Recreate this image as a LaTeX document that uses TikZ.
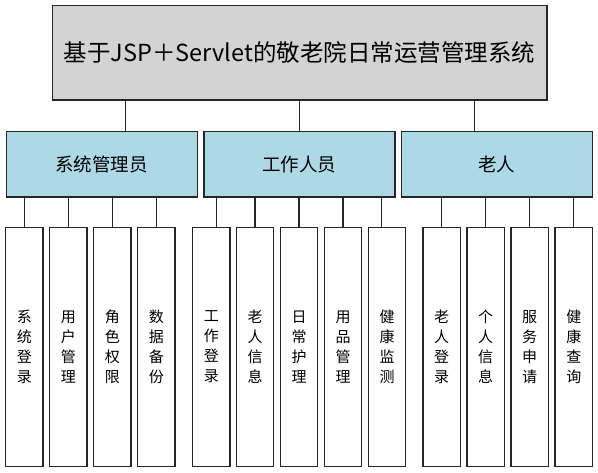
\documentclass[tikz,border=0pt]{standalone}
\usepackage{fontspec}
\setmainfont{Noto Sans CJK SC}
\definecolor{titlegray}{RGB}{211,211,211}
\definecolor{roleblue}{RGB}{173,216,230}
\tikzset{%
  box/.style      = {shape=rectangle, draw=black!85, line width=1.2pt,%
                     inner sep=0pt, align=center},%
  titlebox/.style = {box, fill=titlegray, minimum width=494.6pt, minimum height=94.5pt,%
                     font=\fontsize{23.5}{28}\selectfont},%
  rolebox/.style  = {box, fill=roleblue, minimum width=191pt, minimum height=65.8pt,%
                     font=\fontsize{18.5}{22}\selectfont},%
  funcbox/.style  = {box, fill=white, minimum width=37.5pt, minimum height=239.4pt,%
                     font=\fontsize{15}{20}\selectfont},%
  link/.style     = {draw=black!85, line width=1.2pt}%
}
\begin{document}
\begin{tikzpicture}[x=1pt,y=-1pt]
  \useasboundingbox (0,0) rectangle (598,473);
  \node [titlebox] (title) at (299.6,52.8) {基于JSP＋Servlet的敬老院日常运营管理系统};
  \node [rolebox] (admin) at (101.6,164.2) {系统管理员};
  \node [rolebox] (staff) at (299.4,164.2) {工作人员};
  \node [rolebox] (elder) at (496.9,164.2) {老人};
  % admin
  \node [funcbox] (a1) at (24.3,347) {系\\统\\登\\录};
  \node [funcbox] (a2) at (68.3,347) {用\\户\\管\\理};
  \node [funcbox] (a3) at (112.3,347) {角\\色\\权\\限};
  \node [funcbox] (a4) at (156.3,347) {数\\据\\备\\份};
  % staff
  \node [funcbox] (s1) at (211.3,347) {工\\作\\登\\录};
  \node [funcbox] (s2) at (255,347) {老\\人\\信\\息};
  \node [funcbox] (s3) at (299,347) {日\\常\\护\\理};
  \node [funcbox] (s4) at (343,347) {用\\品\\管\\理};
  \node [funcbox] (s5) at (387,347) {健\\康\\监\\测};
  % elder
  \node [funcbox] (e1) at (441.7,347) {老\\人\\登\\录};
  \node [funcbox] (e2) at (485.7,347) {个\\人\\信\\息};
  \node [funcbox] (e3) at (529.7,347) {服\\务\\申\\请};
  \node [funcbox] (e4) at (573.8,347) {健\\康\\查\\询};
  \draw [link] ([xshift=-174.5pt]title.south) -- ([xshift=-174.5pt]title.south |- admin.north);
  \draw [link] (title.south) -- (title.south |- staff.north);
  \draw [link] ([xshift=174.5pt]title.south) -- ([xshift=174.5pt]title.south |- elder.north);
  \draw [link] (a1.north |- admin.south) -- (a1.north);
  \draw [link] (a2.north |- admin.south) -- (a2.north);
  \draw [link] (a3.north |- admin.south) -- (a3.north);
  \draw [link] (a4.north |- admin.south) -- (a4.north);
  \draw [link] ([xshift=5.4pt]s1.north |- staff.south) -- ([xshift=5.4pt]s1.north);
  \draw [link] (s2.north |- staff.south) -- (s2.north);
  \draw [link] (s3.north |- staff.south) -- (s3.north);
  \draw [link] (s4.north |- staff.south) -- (s4.north);
  \draw [link] ([xshift=-5.4pt]s5.north |- staff.south) -- ([xshift=-5.4pt]s5.north);
  \draw [link] (e1.north |- elder.south) -- (e1.north);
  \draw [link] (e2.north |- elder.south) -- (e2.north);
  \draw [link] (e3.north |- elder.south) -- (e3.north);
  \draw [link] (e4.north |- elder.south) -- (e4.north);
\end{tikzpicture}
\end{document}
